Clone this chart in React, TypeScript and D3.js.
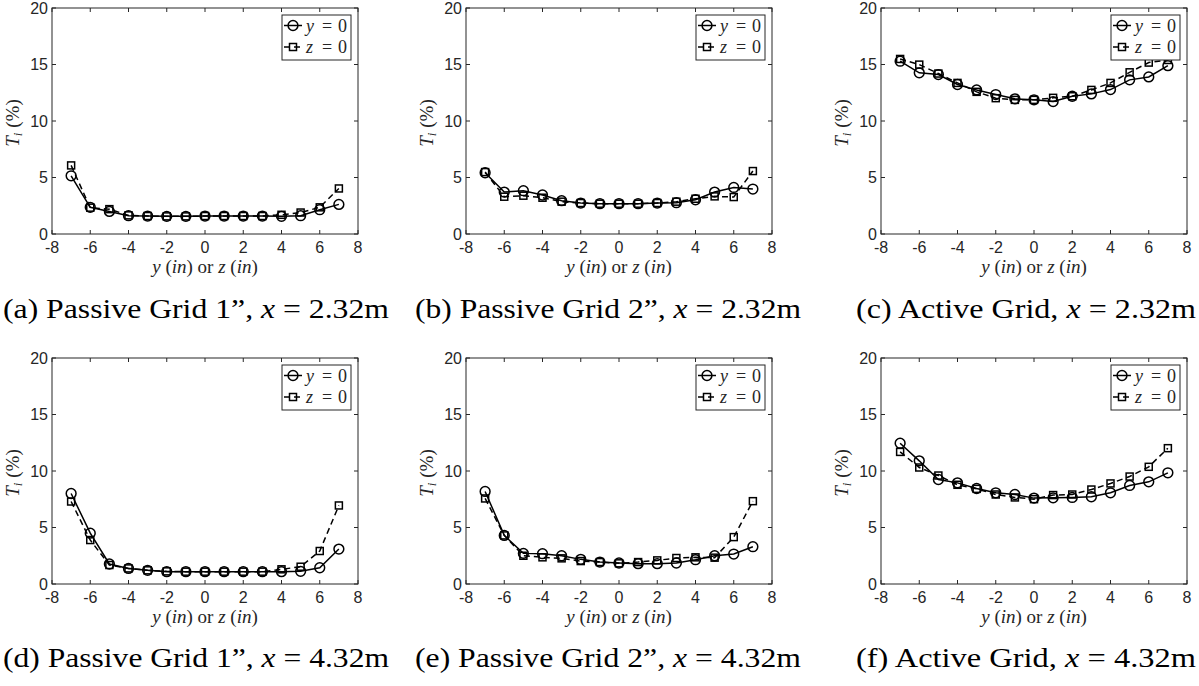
import React from "react";
import * as d3 from "d3";

// ---- data ----
const positions = [-7, -6, -5, -4, -3, -2, -1, 0, 1, 2, 3, 4, 5, 6, 7];
const xTicks = [-8, -6, -4, -2, 0, 2, 4, 6, 8];
const yTicks = [0, 5, 10, 15, 20];

const a_y0 = [5.15, 2.36, 2.0, 1.62, 1.59, 1.56, 1.56, 1.59, 1.59, 1.59, 1.59, 1.56, 1.62, 2.15, 2.62];
const a_z0 = [6.07, 2.33, 2.2, 1.65, 1.59, 1.56, 1.56, 1.59, 1.59, 1.59, 1.59, 1.7, 1.9, 2.36, 4.03];
const b_y0 = [5.42, 3.71, 3.83, 3.45, 2.95, 2.74, 2.68, 2.68, 2.68, 2.74, 2.77, 3.03, 3.71, 4.12, 3.98];
const b_z0 = [5.48, 3.3, 3.39, 3.21, 2.86, 2.74, 2.68, 2.68, 2.68, 2.74, 2.86, 3.12, 3.33, 3.27, 5.57];
const c_y0 = [15.29, 14.26, 14.11, 13.23, 12.75, 12.34, 11.96, 11.87, 11.72, 12.19, 12.4, 12.78, 13.64, 13.9, 14.9];
const c_z0 = [15.49, 14.99, 14.2, 13.37, 12.58, 12.02, 11.87, 11.87, 12.05, 12.19, 12.75, 13.37, 14.31, 15.17, 15.4];
const d_y0 = [8.01, 4.5, 1.77, 1.38, 1.21, 1.09, 1.09, 1.09, 1.09, 1.09, 1.09, 1.09, 1.12, 1.44, 3.09];
const d_z0 = [7.3, 3.89, 1.68, 1.38, 1.21, 1.12, 1.09, 1.09, 1.09, 1.09, 1.09, 1.3, 1.53, 2.92, 6.95];
const e_y0 = [8.19, 4.3, 2.71, 2.68, 2.5, 2.18, 1.94, 1.86, 1.8, 1.8, 1.86, 2.15, 2.5, 2.65, 3.3];
const e_z0 = [7.57, 4.3, 2.5, 2.36, 2.27, 2.03, 1.94, 1.83, 1.94, 2.09, 2.3, 2.36, 2.33, 4.15, 7.33];
const f_y0 = [12.46, 10.9, 9.25, 8.95, 8.45, 8.07, 7.92, 7.6, 7.63, 7.66, 7.72, 8.07, 8.72, 9.04, 9.84];
const f_z0 = [11.69, 10.31, 9.6, 8.78, 8.42, 7.92, 7.66, 7.51, 7.87, 7.92, 8.36, 8.9, 9.51, 10.37, 12.02];

const captionLetters = ["a", "b", "c", "d", "e", "f"];
const captionNames = ["Passive Grid 1\u201D, ", "Passive Grid 2\u201D, ", "Active Grid, ", "Passive Grid 1\u201D, ", "Passive Grid 2\u201D, ", "Active Grid, "];
const captionX = ["2.32m", "2.32m", "2.32m", "4.32m", "4.32m", "4.32m"];

const panels = [
  { y0: a_y0, z0: a_z0 },
  { y0: b_y0, z0: b_z0 },
  { y0: c_y0, z0: c_z0 },
  { y0: d_y0, z0: d_z0 },
  { y0: e_y0, z0: e_z0 },
  { y0: f_y0, z0: f_z0 },
];

// ---- layout ----
const PANEL_LEFT = [52, 466, 881];
const ROW_TOP = [8, 358];
const PW = 306;
const PH = 226;
const CAPTION_CX = [196, 608, 1026];
const CAPTION_W = [386, 386, 340];
const CAPTION_Y = [318, 667];
const AXIS = "#262626";
const SERIF = "'Liberation Serif', 'Times New Roman', serif";
const SANS = "'Liberation Sans', Arial, Helvetica, sans-serif";

function Marker({ kind, x, y }: { kind: string; x: number; y: number }) {
  if (kind === "circle")
    return <circle cx={x} cy={y} r={4.9} fill="none" stroke="#000" strokeWidth={1.5} />;
  return <rect x={x - 3.5} y={y - 3.5} width={7} height={7} fill="none" stroke="#000" strokeWidth={1.5} />;
}

function Panel({ idx }: { idx: number }) {
  const col = idx % 3;
  const row = Math.floor(idx / 3);
  const left = PANEL_LEFT[col];
  const top = ROW_TOP[row];
  const x = d3.scaleLinear().domain([-8, 8]).range([left, left + PW]);
  const y = d3.scaleLinear().domain([0, 20]).range([top + PH, top]);
  const p = panels[idx];
  const line = d3
    .line<number>()
    .x((_, i) => x(positions[i]))
    .y((v) => y(v));
  const tl = 4;
  const lgW = 69;
  const lgH = 45;
  const lgX = left + PW - 7 - lgW;
  const lgY = top + 7;
  return (
    <g>
      {/* data */}
      <path d={line(p.z0) || ""} fill="none" stroke="#000" strokeWidth={1.5} strokeDasharray="6,4" />
      {p.z0.map((v, i) => (
        <Marker key={"s" + i} kind="square" x={x(positions[i])} y={y(v)} />
      ))}
      <path d={line(p.y0) || ""} fill="none" stroke="#000" strokeWidth={1.5} />
      {p.y0.map((v, i) => (
        <Marker key={"c" + i} kind="circle" x={x(positions[i])} y={y(v)} />
      ))}
      {/* box */}
      <rect x={left} y={top} width={PW} height={PH} fill="none" stroke={AXIS} strokeWidth={1} />
      {/* ticks */}
      {xTicks.map((t) => (
        <g key={"xt" + t}>
          <line x1={x(t)} x2={x(t)} y1={top + PH} y2={top + PH - tl} stroke={AXIS} />
          <line x1={x(t)} x2={x(t)} y1={top} y2={top + tl} stroke={AXIS} />
          <text x={x(t)} y={top + PH + 19} textAnchor="middle" fontFamily={SANS} fontSize={16} fill={AXIS}>
            {t}
          </text>
        </g>
      ))}
      {yTicks.map((t) => (
        <g key={"yt" + t}>
          <line x1={left} x2={left + tl} y1={y(t)} y2={y(t)} stroke={AXIS} />
          <line x1={left + PW} x2={left + PW - tl} y1={y(t)} y2={y(t)} stroke={AXIS} />
          <text x={left - 4} y={y(t) + 5.5} textAnchor="end" fontFamily={SANS} fontSize={16} fill={AXIS}>
            {t}
          </text>
        </g>
      ))}
      {/* axis labels */}
      <text x={left + PW / 2} y={top + PH + 39} textAnchor="middle" fontFamily={SERIF} fontSize={19} fill={AXIS}>
        <tspan fontStyle="italic">y</tspan> (<tspan fontStyle="italic">in</tspan>) or{" "}
        <tspan fontStyle="italic">z</tspan> (<tspan fontStyle="italic">in</tspan>)
      </text>
      <text
        transform={`translate(${left - 33},${top + PH / 2 + 2}) rotate(-90)`}
        textAnchor="middle"
        fontFamily={SERIF}
        fontSize={19}
        fill={AXIS}
      >
        <tspan fontStyle="italic">T</tspan>
        <tspan fontStyle="italic" fontSize={13} dy={3}>i</tspan>
        <tspan dy={-3}> (%)</tspan>
      </text>
      {/* legend */}
      <rect x={lgX} y={lgY} width={lgW} height={lgH} fill="#fff" stroke={AXIS} strokeWidth={1} />
      {[0, 1].map((k) => {
        const cy = lgY + 10.5 + k * 21.5;
        return (
          <g key={"lg" + k}>
            <line
              x1={lgX + 2}
              x2={lgX + 20}
              y1={cy}
              y2={cy}
              stroke="#000"
              strokeWidth={1.5}
              strokeDasharray={k === 1 ? "6,4" : undefined}
            />
            <Marker kind={k === 0 ? "circle" : "square"} x={lgX + 11} y={cy} />
            <text x={lgX + 24} y={cy + 6} fontFamily={SERIF} fontSize={18} fontStyle="italic" fill={AXIS}>
              {k === 0 ? "y" : "z"}
            </text>
            <text x={lgX + 40} y={cy + 6} fontFamily={SERIF} fontSize={18} fill={AXIS}>
              =
            </text>
            <text x={lgX + 56} y={cy + 6} fontFamily={SERIF} fontSize={18} fill={AXIS}>
              0
            </text>
          </g>
        );
      })}
      {/* caption */}
      <text
        x={CAPTION_CX[col]}
        y={CAPTION_Y[row]}
        textAnchor="middle"
        fontFamily={SERIF}
        fontSize={27}
        fill="#000"
        textLength={CAPTION_W[col]}
        lengthAdjust="spacingAndGlyphs"
      >
        ({captionLetters[idx]}) {captionNames[idx]}
        <tspan fontStyle="italic">x</tspan> = {captionX[idx]}
      </text>
    </g>
  );
}

export default function App() {
  return (
    <svg
      width={1199}
      height={686}
      style={{ position: "absolute", left: 0, top: 0, background: "#fff" }}
    >
      <rect width={1199} height={686} fill="#fff" />
      {[0, 1, 2, 3, 4, 5].map((i) => (
        <Panel key={i} idx={i} />
      ))}
    </svg>
  );
}
